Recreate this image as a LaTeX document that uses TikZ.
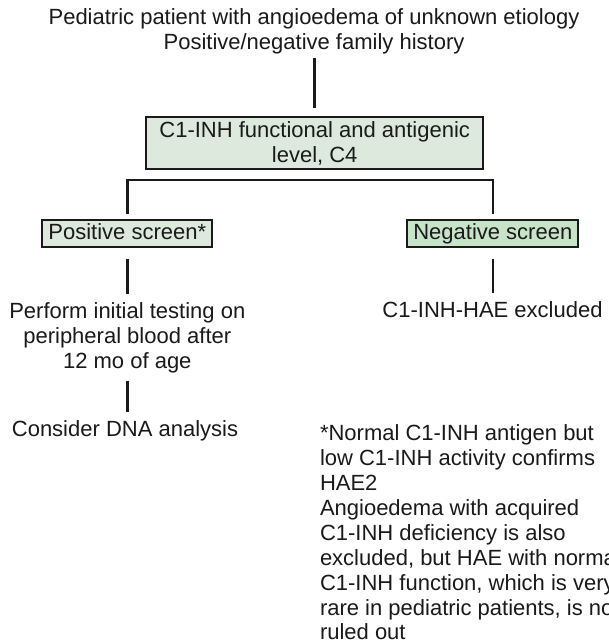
\documentclass[tikz,border=0pt]{standalone}
\usepackage{fontspec}
\setmainfont{Liberation Sans}
\definecolor{boxfill}{HTML}{DDE9DD}
\definecolor{negfill}{HTML}{C8E4C8}
\definecolor{inkc}{HTML}{1A1A1A}
\begin{document}
\begin{tikzpicture}[x=1pt,y=-1pt,
  every node/.style={inner sep=0pt, outer sep=0pt, text=inkc,
    font=\fontsize{22}{24.9}\selectfont},
  conn/.style={draw=inkc, line width=2.5pt},
  gbox/.style={draw=inkc, line width=2.2pt, fill=boxfill, align=center},
  plain/.style={align=center}]
\useasboundingbox (0,0) rectangle (608,642);
\fill[white] (0,0) rectangle (608,642);

\node[plain, anchor=base, font=\fontsize{22}{24.3}\selectfont] (top) at (314,49.3)
  {Pediatric patient with angioedema of unknown etiology\\Positive/negative family history};

\node[gbox, minimum width=337, minimum height=52] (test) at (314.7,143.3)
  {C1-INH functional and antigenic\\level, C4};

\node[gbox, minimum width=170, minimum height=27.3, text height=15.5, text depth=3] (pos) at (127.3,233.7)
  {Positive screen*};
\node[gbox, fill=negfill, minimum width=171, minimum height=27.3, text height=15.5, text depth=3] (neg) at (492.8,233.7)
  {Negative screen};

\node[plain, anchor=base] (perform) at (127.3,368.3)
  {Perform initial testing on\\peripheral blood after\\12 mo of age};
\node[plain, anchor=base] (dna) at (125,436.7) {Consider DNA analysis};
\node[plain, anchor=base] (excl) at (492.5,317.3) {C1-INH-HAE excluded};

\node[align=left, anchor=base west] (note) at (320,639.9)
  {*Normal C1-INH antigen but\\low C1-INH activity confirms\\HAE2\\Angioedema with acquired\\C1-INH deficiency is also\\excluded, but HAE with normal\\C1-INH function, which is very\\rare in pediatric patients, is not\\ruled out};

\coordinate (split) at (310,180);

\draw[conn, shorten <=4pt, shorten >=9.3pt] (top.south -| test.north) -- (test.north);
\draw[conn, shorten <=6pt, shorten >=6pt] (pos.north) |- (split) -| (neg.north);
\draw[conn, shorten <=12pt, shorten >=8.3pt] (pos.south) -- (pos.south |- perform.north);
\draw[conn, shorten <=12pt, shorten >=8.3pt] (neg.south) -- (neg.south |- excl.north);
\draw[conn, shorten <=7.7pt, shorten >=9pt] (perform.south) -- (perform.south |- dna.north);
\end{tikzpicture}
\end{document}
